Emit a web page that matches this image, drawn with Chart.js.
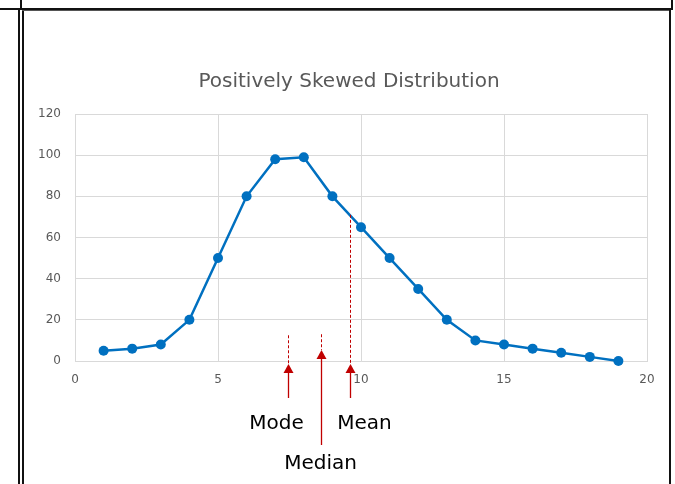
<!DOCTYPE html>
<html><head><meta charset="utf-8">
<script src="https://cdn.jsdelivr.net/npm/chart.js@4/dist/chart.umd.min.js"></script>
<style>
html,body{margin:0;padding:0;background:#fff;overflow:hidden}
#wrap{position:relative;width:675px;height:484px}
canvas{position:absolute;left:0;top:0}
.ln{position:absolute;background:#111}
</style></head><body>
<div id="wrap">
<canvas id="c" width="675" height="484"></canvas>
<div class="ln" style="left:0;top:8px;width:673px;height:2px"></div>
<div class="ln" style="left:20px;top:0;width:2px;height:9px"></div>
<div class="ln" style="left:671px;top:0;width:2px;height:9px"></div>
<div class="ln" style="left:18px;top:9px;width:2px;height:475px"></div>
<div class="ln" style="left:22px;top:9px;width:2px;height:475px"></div>
<div class="ln" style="left:22px;top:10px;width:649px;height:1px;background:#555"></div>
<div class="ln" style="left:669px;top:10px;width:2px;height:474px"></div>
</div>
<script>
const xValues = [1,2,3,4,5,6,7,8,9,10,11,12,13,14,15,16,17,18,19];
const yValues = [5,6,8,20,50,80,98,99,80,65,50,35,20,10,8,6,4,2,0];
const xTicks = [0,5,10,15,20];
const yTicks = [0,20,40,60,80,100,120];
const titleText = 'Positively Skewed Distribution';
const markerNames = ['Mode','Median','Mean'];
const markerX = [7.45, 8.6, 9.6];
const markerTop = [12.5, 13, 71];

const RED = '#C00000';
const markerStyle = [
  {tip: 3, tail: 25, lx: -12, ly: 63},
  {tip: -11, tail: 86, lx: -1, ly: 103},
  {tip: 3, tail: 25, lx: 14, ly: 63}
];

const annotate = {
  id: 'annotate',
  afterDraw(chart) {
    const ctx = chart.ctx, xs = chart.scales.x, ys = chart.scales.y;
    const base = ys.getPixelForValue(0);
    ctx.save();
    ctx.fillStyle = '#595959';
    ctx.font = '20px "DejaVu Sans"';
    ctx.textAlign = 'center';
    ctx.textBaseline = 'middle';
    ctx.fillText(titleText, 349, 82);
    markerNames.forEach((name, i) => {
      const st = markerStyle[i];
      const px = Math.round(xs.getPixelForValue(markerX[i])) + 0.5;
      const top = ys.getPixelForValue(markerTop[i]);
      const tipY = base + st.tip;
      ctx.strokeStyle = RED;
      ctx.lineWidth = 1;
      ctx.setLineDash([3, 2]);
      ctx.beginPath(); ctx.moveTo(px, top); ctx.lineTo(px, tipY); ctx.stroke();
      ctx.setLineDash([]);
      ctx.fillStyle = RED;
      ctx.beginPath();
      ctx.moveTo(px, tipY); ctx.lineTo(px - 5, tipY + 9); ctx.lineTo(px + 5, tipY + 9); ctx.closePath(); ctx.fill();
      ctx.lineWidth = 1.3;
      ctx.beginPath(); ctx.moveTo(px, tipY + 9); ctx.lineTo(px, tipY + 9 + st.tail); ctx.stroke();
      ctx.fillStyle = '#000';
      ctx.font = '20px "DejaVu Sans"';
      ctx.textAlign = 'center';
      ctx.textBaseline = 'middle';
      ctx.fillText(name, px + st.lx, base + st.ly);
    });
    ctx.restore();
  }
};

new Chart(document.getElementById('c'), {
  type: 'scatter',
  data: {
    datasets: [{
      data: xValues.map((x, i) => ({x, y: yValues[i]})),
      showLine: true,
      clip: false,
      borderColor: '#0070C0',
      backgroundColor: '#0070C0',
      borderWidth: 2.5,
      pointRadius: 5,
      pointBorderWidth: 0,
      pointBackgroundColor: '#0070C0',
      tension: 0
    }]
  },
  options: {
    responsive: false,
    animation: false,
    devicePixelRatio: 1,
    layout: {padding: {left: 0, right: 28, top: 114, bottom: 0}},
    plugins: {legend: {display: false}, tooltip: {enabled: false}, title: {display: false}},
    scales: {
      x: {
        type: 'linear', min: 0, max: 20,
        afterBuildTicks: s => { s.ticks = xTicks.map(v => ({value: v})); },
        afterFit: s => { s.height = 123; },
        grid: {color: '#d9d9d9', lineWidth: 1, drawTicks: false},
        border: {color: '#d9d9d9'},
        ticks: {color: '#595959', font: {family: 'DejaVu Sans', size: 12}, padding: 12, maxRotation: 0}
      },
      y: {
        type: 'linear', min: 0, max: 120,
        afterBuildTicks: s => { s.ticks = yTicks.map(v => ({value: v})); },
        afterFit: s => { s.width = 75; },
        grid: {color: '#d9d9d9', lineWidth: 1, drawTicks: false},
        border: {color: '#d9d9d9'},
        ticks: {color: '#595959', font: {family: 'DejaVu Sans', size: 12}, padding: 14}
      }
    }
  },
  plugins: [annotate]
});
</script>
</body></html>
